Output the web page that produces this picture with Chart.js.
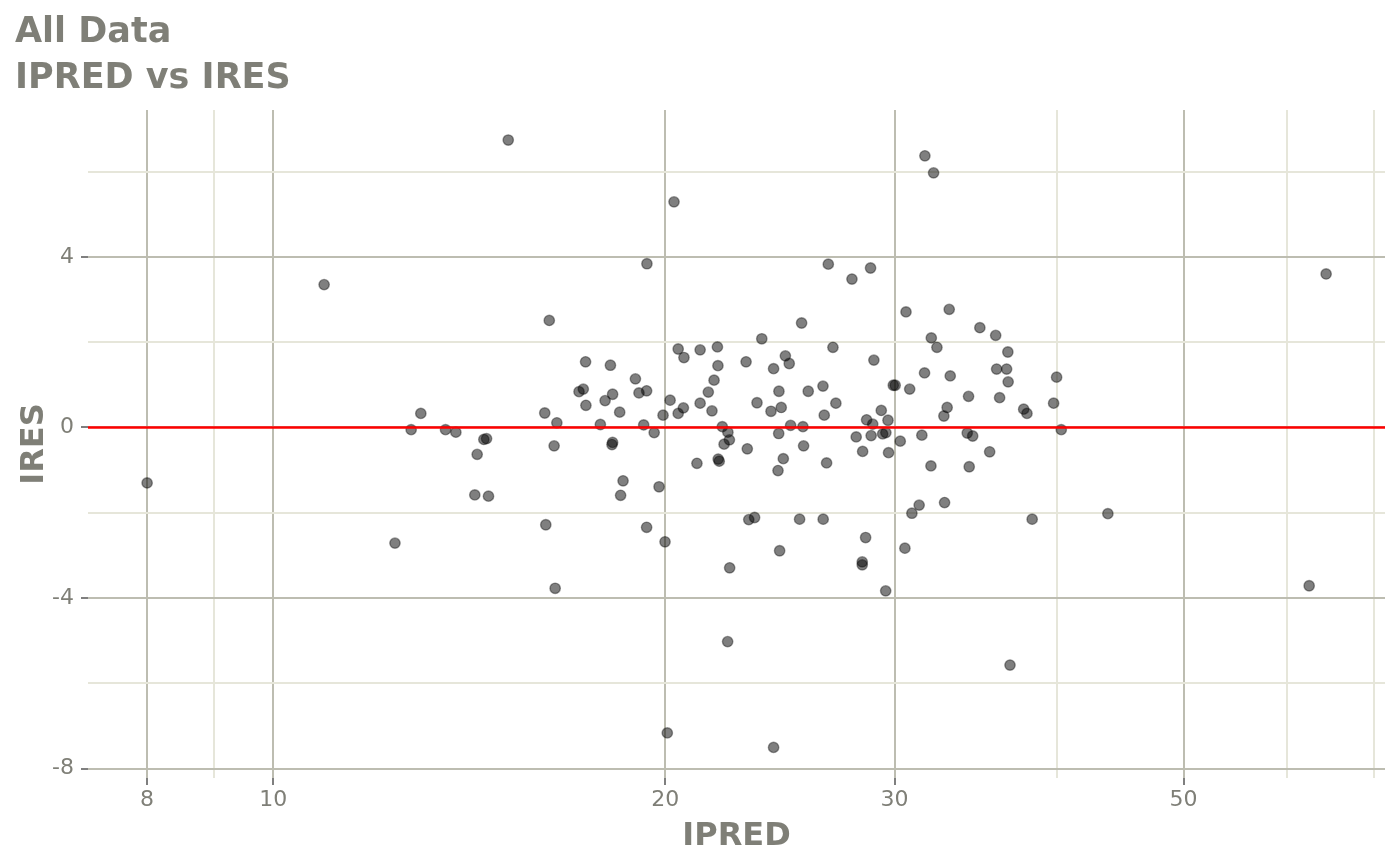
<!DOCTYPE html>
<html>
<head>
<meta charset="utf-8">
<script src="https://cdn.jsdelivr.net/npm/chart.js@4"></script>
<style>
  html, body { margin: 0; padding: 0; background: #ffffff; }
  #wrap { width: 1400px; height: 865px; }
</style>
</head>
<body>
<div id="wrap"><canvas id="c" width="1400" height="865"></canvas></div>
<script>
// ---- data ----
const titleLines = ['All Data', 'IPRED vs IRES'];
const xTitle = 'IPRED';
const yTitle = 'IRES';

const ipred = [
  8.00, 10.94, 12.40, 12.76, 12.98, 13.56, 13.81, 14.28, 14.34, 14.51,
  14.58, 14.63, 15.15, 16.16, 16.19, 16.29, 16.43, 16.46, 16.51, 17.17,
  17.30, 17.37, 17.38, 17.83, 17.98, 18.15, 18.20, 18.22, 18.22, 18.45,
  18.48, 18.56, 18.97, 19.09, 19.25, 19.35, 19.35, 19.61, 19.78, 19.92,
  19.99, 20.17, 20.46, 20.46, 20.65, 20.67, 21.27, 21.27, 21.15, 21.58,
  21.72, 21.80, 21.93, 21.95, 21.96, 22.00, 22.12, 22.19, 22.34, 22.40,
  23.07, 23.12, 23.18, 23.42, 23.52, 23.72, 24.11, 24.22, 24.41, 24.44,
  24.45, 24.48, 24.55, 24.64, 24.73, 24.90, 24.96, 25.36, 25.45, 25.51,
  25.54, 25.75, 26.43, 26.44, 26.49, 26.60, 26.90, 27.04, 28.03, 28.35,
  28.50, 28.55, 28.78, 28.86, 28.92, 29.30, 29.37, 29.54, 29.65, 29.68,
  29.93, 30.03, 30.30, 30.55, 30.61, 30.81, 30.93, 31.33, 31.48, 31.63,
  31.99, 32.01, 32.33, 32.73, 32.77, 32.92, 33.04, 33.10, 34.11, 34.19,
  34.23, 34.44, 34.88, 35.49, 35.87, 35.93, 36.12, 36.57, 36.65, 36.67,
  37.69, 37.91, 38.26, 39.74, 39.95, 40.28, 19.36, 20.31, 26.68, 27.82,
  28.75, 31.65, 32.14, 20.07, 22.33, 22.41, 24.22, 28.33, 28.33, 29.53,
  36.79, 43.74, 62.44, 64.34
];
const ires = [
  -1.30, 3.35, -2.71, -0.05, 0.33, -0.05, -0.11, -1.58, -0.63, -0.28,
  -0.26, -1.61, 6.74, 0.34, -2.28, 2.51, -0.43, -3.77, 0.11, 0.84,
  0.90, 1.54, 0.52, 0.07, 0.63, 1.46, -0.40, -0.35, 0.78, 0.36,
  -1.59, -1.25, 1.14, 0.81, 0.06, 0.86, -2.34, -0.12, -1.39, 0.29,
  -2.68, 0.64, 1.84, 0.33, 0.46, 1.64, 1.82, 0.57, -0.84, 0.83,
  0.39, 1.11, 1.89, 1.45, -0.74, -0.79, 0.02, -0.39, -0.11, -0.29,
  1.54, -0.50, -2.16, -2.11, 0.58, 2.08, 0.38, 1.38, -1.01, -0.14,
  0.85, -2.89, 0.47, -0.73, 1.68, 1.50, 0.05, -2.15, 2.45, 0.02,
  -0.43, 0.85, 0.97, -2.15, 0.29, -0.83, 1.88, 0.57, -0.22, -0.56,
  -2.58, 0.18, -0.19, 0.08, 1.58, 0.40, -0.15, -0.12, 0.17, -0.59,
  0.99, 0.99, -0.32, -2.83, 2.71, 0.90, -2.01, -1.82, -0.18, 1.28,
  -0.90, 2.10, 1.88, 0.27, -1.76, 0.47, 2.77, 1.21, -0.13, 0.73,
  -0.92, -0.20, 2.34, -0.57, 2.16, 1.37, 0.70, 1.37, 1.77, 1.07,
  0.43, 0.33, -2.15, 0.57, 1.18, -0.05, 3.84, 5.29, 3.83, 3.48,
  3.74, 6.37, 5.97, -7.16, -5.02, -3.29, -7.50, -3.15, -3.22, -3.83,
  -5.57, -2.02, -3.71, 3.60
];

// axis settings
const xMin = 7.206, xMax = 71.4;
const yMin = -8.218, yMax = 7.444;
const xMajorTicks = [8, 10, 20, 30, 50];
const xMinorTicks = [9, 40, 60, 70];
const yMajorTicks = [-8, -4, 0, 4];
const yMinorTicks = [-6, -2, 2, 6];
const refLineY = 0;

// ---- styling ----
const textColor = '#7f7f77';
const majorGrid = '#bababd';
const minorGrid = '#e6e6da';
const tickMarkColor = '#7f7f7f';
const FONT = "'DejaVu Sans', sans-serif";

const points = ipred.map((x, i) => ({ x: x, y: ires[i] }));

const refLinePlugin = {
  id: 'refLine',
  afterDatasetsDraw(chart) {
    const { ctx, chartArea, scales } = chart;
    const y = scales.y.getPixelForValue(refLineY);
    ctx.save();
    ctx.strokeStyle = '#ff0000';
    ctx.lineWidth = 2.5;
    ctx.beginPath();
    ctx.moveTo(chartArea.left, y);
    ctx.lineTo(chartArea.right, y);
    ctx.stroke();
    ctx.restore();
  }
};

const isMinorX = v => xMinorTicks.includes(v);
const isMinorY = v => yMinorTicks.includes(v);

new Chart(document.getElementById('c'), {
  type: 'scatter',
  data: {
    datasets: [{
      data: points,
      backgroundColor: 'rgba(0,0,0,0.5)',
      borderColor: 'rgba(0,0,0,0.38)',
      borderWidth: 1.4,
      pointRadius: 5.2,
      pointHoverRadius: 5.2
    }]
  },
  options: {
    responsive: false,
    devicePixelRatio: 1,
    animation: false,
    events: [],
    layout: { padding: { left: 15, right: 15, top: 0, bottom: 0 } },
    plugins: {
      legend: { display: false },
      tooltip: { enabled: false },
      title: {
        display: true,
        text: titleLines,
        align: 'start',
        color: textColor,
        font: { family: FONT, size: 35, weight: 'bold', lineHeight: 46 / 35 },
        padding: { top: 10, bottom: 8 }
      }
    },
    scales: {
      x: {
        type: 'logarithmic',
        min: xMin,
        max: xMax,
        border: { display: false },
        grid: {
          color: c => (c.tick && isMinorX(c.tick.value)) ? minorGrid : '#bdbdb1',
          lineWidth: 2,
          tickLength: 7,
          tickColor: c => (c.tick && isMinorX(c.tick.value)) ? 'rgba(0,0,0,0)' : tickMarkColor,
          tickWidth: 2
        },
        afterBuildTicks: s => {
          s.ticks = xMajorTicks.concat(xMinorTicks).sort((a, b) => a - b).map(v => ({ value: v }));
        },
        afterFit: s => { s.height = 87; },
        ticks: {
          autoSkip: false,
          maxRotation: 0,
          padding: 2,
          color: textColor,
          font: { family: FONT, size: 22 },
          callback: v => isMinorX(v) ? '' : String(v)
        },
        title: {
          display: true,
          text: xTitle,
          color: textColor,
          font: { family: FONT, size: 32, weight: 'bold' },
          padding: { top: 0, bottom: 9 }
        }
      },
      y: {
        type: 'linear',
        min: yMin,
        max: yMax,
        border: { display: false },
        grid: {
          color: c => (c.tick && isMinorY(c.tick.value)) ? minorGrid : '#bdbdb1',
          lineWidth: 2,
          tickLength: 7,
          tickColor: c => (c.tick && isMinorY(c.tick.value)) ? 'rgba(0,0,0,0)' : tickMarkColor,
          tickWidth: 2
        },
        afterBuildTicks: s => {
          s.ticks = yMajorTicks.concat(yMinorTicks).sort((a, b) => a - b).map(v => ({ value: v }));
        },
        afterFit: s => { s.width = 73; },
        ticks: {
          autoSkip: false,
          padding: 7,
          color: textColor,
          font: { family: FONT, size: 22 },
          callback: v => isMinorY(v) ? '' : String(v)
        },
        title: {
          display: true,
          text: yTitle,
          color: textColor,
          font: { family: FONT, size: 32, weight: 'bold' },
          padding: { top: 0, bottom: 0 }
        }
      }
    }
  },
  plugins: [refLinePlugin]
});
</script>
</body>
</html>
